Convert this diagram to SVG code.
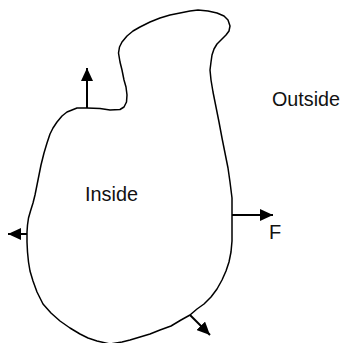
<svg xmlns="http://www.w3.org/2000/svg" width="342" height="343" viewBox="0 0 342 343">
<style>
.outline{fill:none;stroke:#000;stroke-width:1.5;stroke-linejoin:round;stroke-linecap:round}
.arrow{fill:none;stroke:#000;stroke-width:2;marker-end:url(#ah)}
.lbl{font-family:"Liberation Sans",Arial,sans-serif;fill:#111}
</style>
<defs>
<marker id="ah" markerUnits="userSpaceOnUse" markerWidth="13" markerHeight="12" viewBox="0 0 13 12" refX="13" refY="6" orient="auto">
<path d="M0,0 L13,6 L0,12 z" fill="#000"/>
</marker>
</defs>
<rect width="342" height="343" fill="#fff"/>
<g id="region">
<path class="outline" d="M77,108 L87,108 L100,108.5 L110,110 L120,109.5 L124,107 L126.5,102 L127,95 L126,87 L124,80 L122,70 L120,62 L118.5,53 L119.5,47 L122,42 L127,36 L133,31 L140,27 L150,22 L160,18 L170,15 L180,13 L190,11 L198,10 L208,11 L217,13 L224,16 L228,20 L230,26 L229,31 L226,35 L221,40 L217,44 L214,49 L212,55 L211,62 L210,70 L211,80 L213,92 L216,107 L219,122 L222,138 L225,153 L228,168 L230,182 L232,198 L232,241 L231,252 L229,262 L226,271 L222,280 L217,289 L211,297 L204,304 L197,309 L190,315 L181,320 L171,326 L160,330 L150,334 L140,337 L130,340 L122,342 L110,344 L97,341 L88,338 L80,334 L70,328 L60,321 L51,313 L43,304 L37,292 L33,281 L30,271 L28.5,262 L27.5,252 L27,242 L27,232 L27.5,225 L28.5,218 L30.5,211 L33,203 L35,195 L37,185 L39,175 L41,165 L44,153 L47,143 L50,134 L53,128 L57,122 L62,116 L67,112 L72,110 Z"/>
</g>
<g id="connectors">
<path class="arrow" d="M87,108 V68"/>
<path class="arrow" d="M27,234 H8"/>
<path class="arrow" d="M232,215 H273"/>
<path class="arrow" d="M190,315 L210,335"/>
</g>
<g id="labels">
<text class="lbl" x="272" y="106" font-size="20" textLength="68" lengthAdjust="spacingAndGlyphs">Outside</text>
<text class="lbl" x="85" y="201" font-size="20" textLength="53" lengthAdjust="spacingAndGlyphs">Inside</text>
<text class="lbl" x="269" y="239" font-size="20">F</text>
</g>
</svg>
